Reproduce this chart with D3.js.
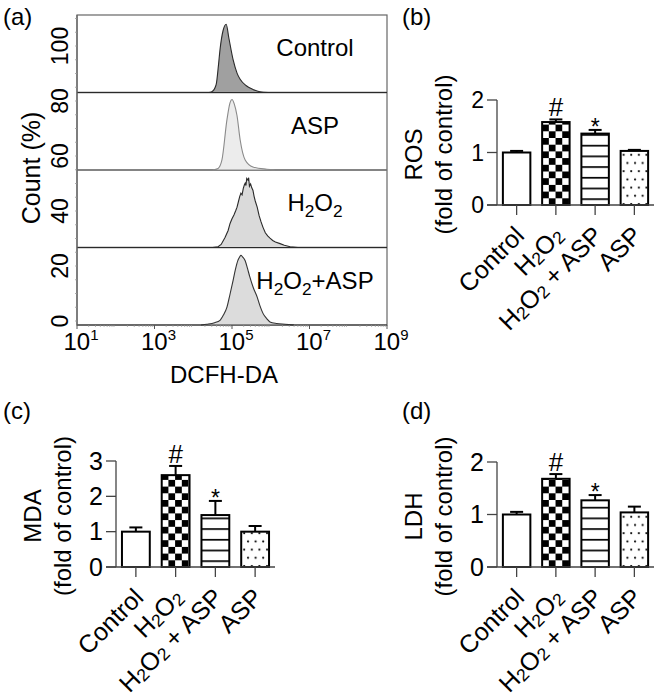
<!DOCTYPE html>
<html><head><meta charset="utf-8">
<script src="https://cdn.jsdelivr.net/npm/d3@7"></script>
<style>
body{margin:0;background:#fff}
text{font-family:"Liberation Sans",Arial,Helvetica,sans-serif;fill:#000}
</style>
</head><body>
<svg id="chart" width="659" height="697"></svg>
<script>
// ---------- DATA ----------
const categories = ["Control", "H2O2", "H2O2 + ASP", "ASP"];
const rosMean = [1.00, 1.58, 1.36, 1.03];
const rosErr  = [0.03, 0.05, 0.07, 0.02];
const mdaMean = [1.00, 2.60, 1.47, 1.00];
const mdaErr  = [0.12, 0.26, 0.40, 0.16];
const ldhMean = [1.00, 1.68, 1.27, 1.04];
const ldhErr  = [0.05, 0.09, 0.10, 0.11];
const sigMarks = ["", "#", "*", ""];
const rosTicks = [0, 1, 2];
const mdaTicks = [0, 1, 2, 3];
const ldhTicks = [0, 1, 2];

const histNames = ["Control", "ASP", "H2O2", "H2O2+ASP"];
// [log10(DCFH-DA intensity), relative count (% of lane height)]
const histControl = [[4.40,0],[4.48,1],[4.59,10],[4.65,35],[4.69,55],[4.77,80],[4.85,88],[4.92,70],[5.03,42],[5.13,25],[5.21,17],[5.36,9],[5.54,4],[5.72,1],[5.93,0]];
const histASP = [[4.50,0],[4.64,2],[4.74,13],[4.87,65],[4.95,87],[5.00,91],[5.06,85],[5.13,70],[5.21,39],[5.34,13],[5.54,4],[5.90,1],[6.10,0]];
const histH2O2 = [[4.50,0],[4.64,1],[4.72,4],[4.82,13],[4.90,22],[4.95,31],[5.00,37],[5.05,42],[5.10,48],[5.13,52],[5.17,60],[5.20,66],[5.23,70],[5.26,68],[5.29,76],[5.32,81],[5.34,83],[5.36,80],[5.38,89],[5.41,87],[5.43,90],[5.45,79],[5.48,82],[5.51,77],[5.54,74],[5.57,66],[5.60,60],[5.65,52],[5.70,41],[5.75,33],[5.80,26],[5.86,19],[5.92,15],[5.98,12],[6.05,9],[6.12,7],[6.24,5],[6.35,3],[6.50,1],[6.70,0]];
const histH2O2ASP = [[4.20,0],[4.35,1],[4.55,3],[4.69,6],[4.78,13],[4.87,23],[4.95,40],[5.03,58],[5.09,72],[5.15,83],[5.20,88],[5.23,90],[5.27,88],[5.34,83],[5.40,73],[5.46,62],[5.55,48],[5.65,36],[5.72,25],[5.80,15],[5.90,8],[5.98,4],[6.15,2],[6.37,1],[6.60,0]];
const histSeries = [histControl, histASP, histH2O2, histH2O2ASP];
const histFill = ["#a0a0a0", "#ececec", "#dadada", "#dcdcdc"];
const histStroke = ["#2a2a2a", "#8a8a8a", "#2a2a2a", "#333333"];
const countTicks = [0, 20, 40, 60, 80, 100];
const logTickExps = [1, 3, 5, 7, 9];

// ---------- HELPERS ----------
const svg = d3.select("#chart");

function chemText(t, str, size, subScale, shift) {
  const parts = str.split(/(\d)/).filter(s => s.length);
  let inSub = false;
  parts.forEach(p => {
    const isSub = /^\d$/.test(p);
    const ts = t.append("tspan").text(p);
    if (isSub) {
      ts.attr("font-size", size * subScale);
      ts.attr("dy", inSub ? 0 : shift);
      inSub = true;
    } else {
      ts.attr("font-size", size);
      if (inSub) ts.attr("dy", -shift);
      inSub = false;
    }
  });
}

// ---------- PANEL (a) ----------
const A = {left: 77, right: 387, top: 15, bottom: 325};
const xLog = d3.scaleLog().domain([1e1, 1e9]).range([A.left, A.right]);
const lane = d3.scaleBand().domain(histNames).range([A.top, A.bottom]);
const yCount = d3.scaleLinear().domain([0, 100]).range([321, 46]);
const gA = svg.append("g");

gA.append("rect").attr("x", A.left).attr("y", A.top)
  .attr("width", A.right - A.left).attr("height", A.bottom - A.top)
  .attr("fill", "none").attr("stroke", "#666").attr("stroke-width", 1.2);
histNames.slice(1).forEach(n => {
  gA.append("line").attr("x1", A.left).attr("x2", A.right)
    .attr("y1", lane(n)).attr("y2", lane(n))
    .attr("stroke", "#555").attr("stroke-width", 1.3);
});

histNames.forEach((n, i) => {
  const y0 = lane(n) + lane.bandwidth();
  const yh = d3.scaleLinear().domain([0, 100]).range([y0, lane(n)]);
  const curve = i === 2 ? d3.curveLinear : d3.curveMonotoneX;
  const area = d3.area().curve(curve)
    .x(d => xLog(Math.pow(10, d[0]))).y0(y0).y1(d => yh(d[1]));
  const line = d3.line().curve(curve)
    .x(d => xLog(Math.pow(10, d[0]))).y(d => yh(d[1]));
  gA.append("path").attr("d", area(histSeries[i])).attr("fill", histFill[i]);
  gA.append("path").attr("d", line(histSeries[i])).attr("fill", "none")
    .attr("stroke", histStroke[i]).attr("stroke-width", 1.1);
  gA.append("line").attr("x1", A.left).attr("x2", A.right).attr("y1", y0).attr("y2", y0)
    .attr("stroke", histStroke[i]).attr("stroke-width", 1.2);
  const t = gA.append("text").attr("x", A.left + 238).attr("y", lane(n) + 41)
    .attr("text-anchor", "middle").attr("font-size", 24);
  chemText(t, n, 24, 0.72, 6);
});

gA.append("line").attr("x1", A.left).attr("x2", A.left).attr("y1", A.top).attr("y2", A.bottom)
  .attr("stroke", "#666").attr("stroke-width", 1.2);
d3.range(0, 111, 5).forEach(v => {
  gA.append("line").attr("x1", A.left - 2).attr("x2", A.left)
    .attr("y1", yCount(v)).attr("y2", yCount(v)).attr("stroke", "#999").attr("stroke-width", 0.8);
});
countTicks.forEach(v => {
  gA.append("text").attr("transform", `translate(${A.left - 9},${yCount(v)}) rotate(-90)`)
    .attr("text-anchor", "middle").attr("font-size", 23).text(v);
});
gA.append("text").attr("transform", `translate(40,168) rotate(-90)`)
  .attr("text-anchor", "middle").attr("font-size", 25).text("Count (%)");

logTickExps.forEach(e => {
  const x = xLog(Math.pow(10, e));
  gA.append("line").attr("x1", x).attr("x2", x).attr("y1", A.bottom).attr("y2", A.bottom + 4)
    .attr("stroke", "#555").attr("stroke-width", 1);
});
for (let e = 1; e < 9; e++) {
  for (let m = 2; m < 10; m++) {
    const x = xLog(m * Math.pow(10, e));
    gA.append("line").attr("x1", x).attr("x2", x).attr("y1", A.bottom).attr("y2", A.bottom + 2)
      .attr("stroke", "#999").attr("stroke-width", 0.7);
  }
}
logTickExps.forEach(e => {
  const x = xLog(Math.pow(10, e));
  const t = gA.append("text").attr("x", x + 4).attr("y", A.bottom + 25)
    .attr("text-anchor", "middle").attr("font-size", 24);
  t.append("tspan").text("10");
  t.append("tspan").attr("font-size", 15).attr("dy", -10).text(e);
});
gA.append("text").attr("x", 224).attr("y", 383).attr("text-anchor", "middle")
  .attr("font-size", 24).text("DCFH-DA");

// ---------- BAR PANELS ----------
const defs = svg.append("defs");

function barPanel(cfg) {
  const g = svg.append("g");
  const x = d3.scaleBand().domain(categories).range([cfg.x0, cfg.x1])
    .paddingInner(0.3).paddingOuter(0.15);
  const yMax = cfg.ticks[cfg.ticks.length - 1];
  const y = d3.scaleLinear().domain([0, yMax]).range([cfg.yZero, cfg.yTop]);
  const bw = x.bandwidth();
  const id = cfg.id;

  const pc = defs.append("pattern").attr("id", id + "chk").attr("patternUnits", "userSpaceOnUse")
    .attr("x", x(categories[1])).attr("y", y(0)).attr("width", 13.4).attr("height", 13.4);
  pc.append("rect").attr("width", 13.4).attr("height", 13.4).attr("fill", "#fff");
  pc.append("rect").attr("width", 6.7).attr("height", 6.7).attr("fill", "#000");
  pc.append("rect").attr("x", 6.7).attr("y", 6.7).attr("width", 6.7).attr("height", 6.7).attr("fill", "#000");

  const ph = defs.append("pattern").attr("id", id + "hl").attr("patternUnits", "userSpaceOnUse")
    .attr("x", 0).attr("y", y(0) - 6.7).attr("width", 20).attr("height", 10.7);
  ph.append("rect").attr("width", 20).attr("height", 10.7).attr("fill", "#fff");
  ph.append("rect").attr("y", 0).attr("width", 20).attr("height", 1.7).attr("fill", "#000");

  const pd = defs.append("pattern").attr("id", id + "dot").attr("patternUnits", "userSpaceOnUse")
    .attr("x", x(categories[3]) + 1).attr("y", y(0) - 3).attr("width", 7.6).attr("height", 16.4);
  pd.append("rect").attr("width", 7.6).attr("height", 16.4).attr("fill", "#fff");
  pd.append("circle").attr("cx", 2).attr("cy", 2).attr("r", 1.1).attr("fill", "#000");
  pd.append("circle").attr("cx", 5.8).attr("cy", 10.2).attr("r", 1.1).attr("fill", "#000");

  const fills = ["#fff", `url(#${id}chk)`, `url(#${id}hl)`, `url(#${id}dot)`];

  categories.forEach((c, i) => {
    const cx = x(c) + bw / 2;
    const top = y(cfg.mean[i] + cfg.err[i]);
    g.append("line").attr("x1", cx).attr("x2", cx).attr("y1", y(cfg.mean[i])).attr("y2", top)
      .attr("stroke", "#000").attr("stroke-width", 2);
    g.append("line").attr("x1", cx - 6.5).attr("x2", cx + 6.5).attr("y1", top).attr("y2", top)
      .attr("stroke", "#000").attr("stroke-width", 2);
    g.append("rect").attr("x", x(c)).attr("y", y(cfg.mean[i]))
      .attr("width", bw).attr("height", y(0) - y(cfg.mean[i]))
      .attr("fill", fills[i]).attr("stroke", "#000").attr("stroke-width", 2);
    if (sigMarks[i] === "#") {
      g.append("text").attr("x", cx).attr("y", top - 3).attr("text-anchor", "middle")
        .attr("font-size", 26).text("#");
    } else if (sigMarks[i] === "*") {
      g.append("text").attr("x", cx).attr("y", top + 5).attr("text-anchor", "middle")
        .attr("font-size", 23).text("*");
    }
  });

  const ax = "#444";
  g.append("line").attr("x1", cfg.x0).attr("x2", cfg.x0).attr("y1", y(0)).attr("y2", y(yMax))
    .attr("stroke", ax).attr("stroke-width", 1.3);
  g.append("line").attr("x1", cfg.x0 - 10).attr("x2", cfg.x1).attr("y1", y(0)).attr("y2", y(0))
    .attr("stroke", ax).attr("stroke-width", 1.3);
  cfg.ticks.forEach(v => {
    g.append("line").attr("x1", cfg.x0 - 10).attr("x2", cfg.x0).attr("y1", y(v)).attr("y2", y(v))
      .attr("stroke", ax).attr("stroke-width", 1.3);
    g.append("text").attr("x", cfg.x0 - 13).attr("y", y(v)).attr("dy", "0.35em")
      .attr("text-anchor", "end").attr("font-size", cfg.tickFont).text(v);
  });
  categories.forEach(c => {
    const cx = x(c) + bw / 2;
    g.append("line").attr("x1", cx).attr("x2", cx).attr("y1", y(0)).attr("y2", y(0) + 10)
      .attr("stroke", ax).attr("stroke-width", 1.3);
    const t = g.append("text").attr("transform", `translate(${cx + 9},${y(0) + 32}) rotate(-45)`)
      .attr("text-anchor", "end").attr("font-size", 25);
    chemText(t, c, 25, 0.7, 2);
  });
  const cy = (y(0) + y(yMax)) / 2 + 2;
  g.append("text").attr("transform", `translate(${cfg.x0 - 75},${cy}) rotate(-90)`)
    .attr("text-anchor", "middle").attr("font-size", 24).text(cfg.title);
  g.append("text").attr("transform", `translate(${cfg.x0 - 45},${cy}) rotate(-90)`)
    .attr("text-anchor", "middle").attr("font-size", 24).text("(fold of control)");
}

barPanel({id: "b", x0: 497, x1: 654, yZero: 205, yTop: 100, ticks: rosTicks, mean: rosMean, err: rosErr, title: "ROS", tickFont: 23});
barPanel({id: "c", x0: 116, x1: 275, yZero: 567, yTop: 461, ticks: mdaTicks, mean: mdaMean, err: mdaErr, title: "MDA", tickFont: 25});
barPanel({id: "d", x0: 497, x1: 654, yZero: 567, yTop: 462, ticks: ldhTicks, mean: ldhMean, err: ldhErr, title: "LDH", tickFont: 25});

[["(a)", 3, 25], ["(b)", 402, 25], ["(c)", 3, 419], ["(d)", 402, 419]].forEach(p => {
  svg.append("text").attr("x", p[1]).attr("y", p[2]).attr("font-size", 24).text(p[0]);
});
</script>
</body></html>
